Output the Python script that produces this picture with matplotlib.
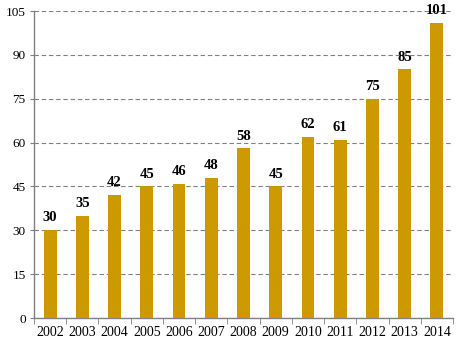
import numpy as np
import matplotlib.pyplot as plt

years = ["2002", "2003", "2004", "2005", "2006", "2007", "2008",
         "2009", "2010", "2011", "2012", "2013", "2014"]
values = [30, 35, 42, 45, 46, 48, 58, 45, 62, 61, 75, 85, 101]
yticks = [0, 15, 30, 45, 60, 75, 90, 105]

plt.rcParams['font.family'] = ['Liberation Serif', 'DejaVu Serif']

fig = plt.figure(figsize=(4.59, 3.55), dpi=100)
ax = fig.add_axes([0.074, 0.104, 0.913, 0.865])

x = np.arange(len(years))
bars = ax.bar(x, values, width=0.4, color="#CC9900", zorder=3)

# value labels above bars
for xi, v in zip(x, values):
    ax.text(xi, v + 2, str(v), ha="center", va="bottom",
            fontsize=10.5, fontweight="bold", zorder=4)

ax.set_xlim(-0.5, len(years) - 0.5)
ax.set_ylim(0, 105)
ax.set_yticks(yticks)
ax.yaxis.grid(True, linestyle=(0, (4, 2.5)), color="#808080", linewidth=0.8, zorder=0)

ax.set_xticks(x)
ax.set_xticklabels(years, fontsize=10)
ax.set_xticks(np.arange(-0.5, len(years)), minor=True)
ax.tick_params(axis="x", which="major", length=0, pad=6)
ax.tick_params(axis="x", which="minor", length=4, color="#808080", direction="out")
ax.tick_params(axis="y", length=3, color="#808080", labelsize=9.5, pad=3)

for side in ["top", "right"]:
    ax.spines[side].set_visible(False)
for side in ["left", "bottom"]:
    ax.spines[side].set_color("#808080")
    ax.spines[side].set_linewidth(1.0)

fig.savefig("out.png", dpi=100)
